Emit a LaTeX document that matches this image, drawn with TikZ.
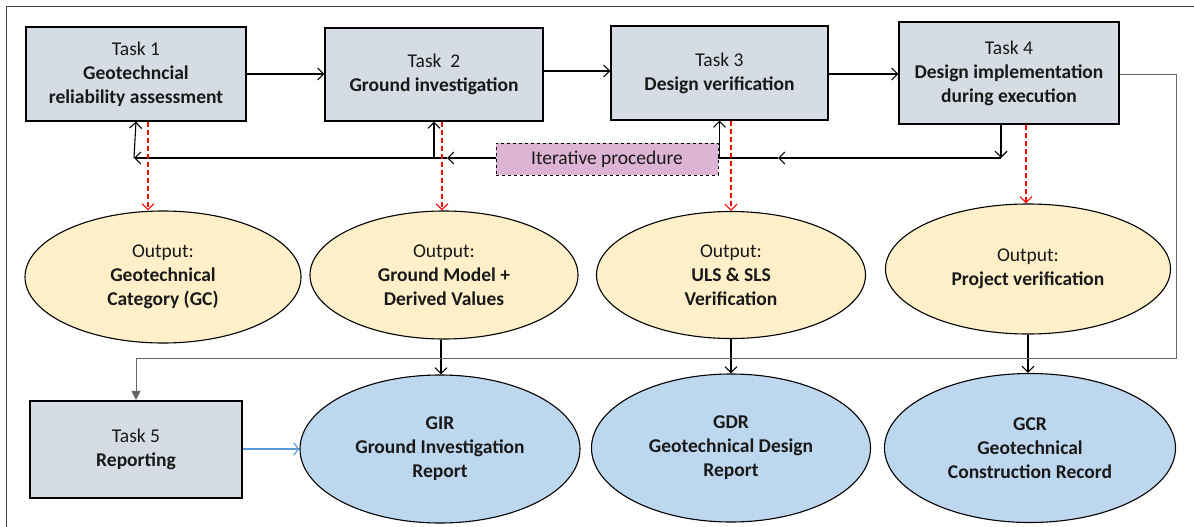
\documentclass[tikz,border=0pt]{standalone}
\usepackage{fontspec}
\setmainfont{Carlito}
\usetikzlibrary{shapes.geometric,arrows.meta}
\definecolor{taskfill}{RGB}{214,220,228}
\definecolor{outfill}{RGB}{255,240,202}
\definecolor{repfill}{RGB}{189,215,238}
\definecolor{iterfill}{RGB}{222,180,212}
\definecolor{linkblue}{RGB}{91,155,213}
\begin{document}
\begin{tikzpicture}[x=1pt,y=-1pt,
    every node/.style={font=\fontsize{19.5}{24}\selectfont,text=black!90,align=center},
    task/.style={draw,line width=1.1pt,fill=taskfill,inner sep=0pt},
    output/.style={ellipse,draw,line width=1.1pt,fill=outfill,inner sep=0pt},
    report/.style={ellipse,draw,line width=1.1pt,fill=repfill,inner sep=0pt},
    iter/.style={draw,dashed,line width=0.9pt,fill=iterfill,inner sep=0pt},
    arr/.style={line width=1.1pt,-{Straight Barb[length=6pt,width=12pt]}},
    redarr/.style={red,line width=1.1pt,dash pattern=on 5pt off 3pt,-{Straight Barb[length=6pt,width=12pt]}},
    grayarr/.style={black!60,line width=0.9pt,-{Triangle[length=9pt,width=9pt]},shorten >=0.5pt},
    bluearr/.style={linkblue,line width=1.2pt,-{Straight Barb[length=5pt,width=12pt]}}]
  \useasboundingbox (0,0) rectangle (1194,527);
  \draw[black!75,line width=1pt] (1194,7) -- (6,7) -- (6,527);
  % tasks
  \node[task,minimum width=220,minimum height=94] (t1) at (136,74)
    {Task 1\\\textbf{Geotechncial}\\\textbf{reliability assessment}};
  \node[task,minimum width=218,minimum height=93] (t2) at (434,74.5)
    {Task\ \ 2\\\textbf{Ground investigation}};
  \node[task,minimum width=217,minimum height=94] (t3) at (719.5,73)
    {Task 3\\\textbf{Design verification}};
  \node[task,minimum width=220,minimum height=102] (t4) at (1009,73)
    {Task 4\\\textbf{Design implementation}\\\textbf{during execution}};
  \node[task,minimum width=212,minimum height=97] (t5) at (136,449.5)
    {Task 5\\\textbf{Reporting}};
  \node[iter,minimum width=222,minimum height=32] (it) at (607,159) {Iterative procedure};
  % outputs
  \node[output,minimum width=276,minimum height=132] (o1) at (163,277)
    {Output:\\\textbf{Geotechnical}\\\textbf{Category (GC)}};
  \node[output,minimum width=268,minimum height=128] (o2) at (444,275)
    {Output:\\\textbf{Ground Model +}\\\textbf{Derived Values}};
  \node[output,minimum width=269,minimum height=127] (o3) at (731,275)
    {Output:\\\textbf{ULS \& SLS}\\\textbf{Verification}};
  \node[output,minimum width=285,minimum height=130] (o4) at (1028,269)
    {Output:\\\textbf{Project verification}};
  % reports
  \node[report,minimum width=280,minimum height=148] (r1) at (440,449)
    {\textbf{GIR}\\\textbf{Ground Investigation}\\\textbf{Report}};
  \node[report,minimum width=279,minimum height=148] (r2) at (731,448)
    {\textbf{GDR}\\\textbf{Geotechnical Design}\\\textbf{Report}};
  \node[report,minimum width=291,minimum height=149] (r3) at (1030,448)
    {\textbf{GCR}\\\textbf{Geotechnical}\\\textbf{Construction Record}};
  \coordinate (m1) at (447,158);
  \coordinate (m2) at (778,158);
  \coordinate (f4) at (1001,158);
  \coordinate (bend) at (1176,358);
  % main flow
  \draw[arr] (t1.east) -- (t1.east -| t2.west);
  \draw[arr] ([yshift=3.5]t2.east) -- ([yshift=3.5]t2.east -| t3.west);
  \draw[arr] ([yshift=-1]t3.east) -- ([yshift=-1]t3.east -| t4.west);
  % iterative loop
  \draw[arr] (f4 |- t4.south) -- (f4);
  \draw[arr] (f4) -- (m2);
  \draw[line width=1.1pt] (m2) -- (it.east |- m2);
  \draw[arr] (it.east |- m2) -| (t3.south);
  \draw[arr] (it.west |- m1) -- (m1);
  \draw[line width=1.1pt] (m1) -- (t2.south |- m1);
  \draw[arr] (t2.south |- m1) -- (t2.south);
  \draw[arr] (t2.south |- m1) -- ([xshift=-2]t1.south |- m1);
  \draw[arr] ([xshift=-2]t1.south |- m1) -- (t1.south);
  % outputs
  \draw[redarr] ([xshift=-15]o1.north |- t1.south) -- ([xshift=-15]o1.north);
  \draw[redarr] ([xshift=-2]o2.north |- t2.south) -- ([xshift=-2]o2.north);
  \draw[redarr] (o3.north |- t3.south) -- (o3.north);
  \draw[redarr] ([xshift=-2]o4.north |- t4.south) -- ([xshift=-2]o4.north);
  \draw[line width=1.1pt,-{Straight Barb[length=6pt,width=12pt]}] ([xshift=-3]o2.south) -- ([xshift=-3]o2.south |- r1.north);
  \draw[line width=1.1pt,-{Straight Barb[length=6pt,width=12pt]}] (o3.south) -- (o3.south |- r2.north);
  \draw[line width=1.1pt,-{Straight Barb[length=6pt,width=12pt]}] (o4.south) -- (o4.south |- r3.north);
  % reporting
  \draw[grayarr] ([yshift=-1]t4.east) -| (bend) -| (t5.north);
  \draw[bluearr] (t5.east |- r1.west) -- (r1.west);
\end{tikzpicture}
\end{document}
